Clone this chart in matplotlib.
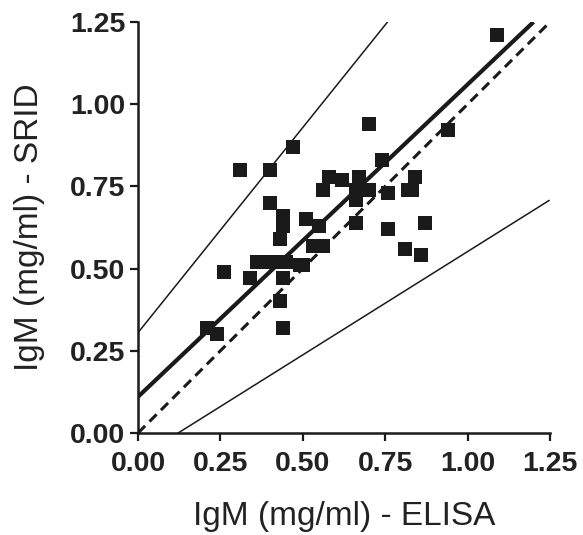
import matplotlib
matplotlib.use('Agg')
import matplotlib.pyplot as plt
import numpy as np

plt.rc('font', **{'family': 'sans-serif', 'sans-serif': ['Liberation Sans', 'DejaVu Sans']})

# IgM measured by ELISA (x) vs SRID (y), mg/ml
elisa = [1.09, 0.94, 0.70, 0.47, 0.31, 0.40, 0.40, 0.44, 0.44, 0.51, 0.43,
         0.26, 0.34, 0.36, 0.40, 0.42, 0.45, 0.44, 0.43, 0.44, 0.21, 0.24,
         0.49, 0.74, 0.58, 0.56, 0.62, 0.67, 0.66, 0.70, 0.66, 0.76, 0.83,
         0.84, 0.51, 0.55, 0.66, 0.76, 0.81, 0.86, 0.87, 0.53, 0.56, 0.50,
         0.82]
srid = [1.21, 0.92, 0.94, 0.87, 0.80, 0.80, 0.70, 0.66, 0.63, 0.65, 0.59,
        0.49, 0.47, 0.52, 0.52, 0.52, 0.52, 0.47, 0.40, 0.32, 0.32, 0.30,
        0.51, 0.83, 0.78, 0.74, 0.77, 0.78, 0.74, 0.74, 0.71, 0.73, 0.74,
        0.78, 0.65, 0.63, 0.64, 0.62, 0.56, 0.54, 0.64, 0.57, 0.57, 0.51,
        0.74]

# regression line, identity line and limit lines (end points)
fit_x = [0.0, 1.20]
fit_y = [0.11, 1.25]
ident_x = [0.0, 1.25]
ident_y = [0.0, 1.25]
upper_x = [0.0, 0.757]
upper_y = [0.305, 1.25]
lower_x = [0.122, 1.247]
lower_y = [0.0, 0.707]

ticks = [0.0, 0.25, 0.5, 0.75, 1.0, 1.25]
tick_labels = ['0.00', '0.25', '0.50', '0.75', '1.00', '1.25']

fig = plt.figure(figsize=(5.83, 5.35), dpi=100)
ax = fig.add_axes([0.2367, 0.1907, 0.7067, 0.7682])

ax.plot(upper_x, upper_y, color='#1a1a1a', lw=1.1)
ax.plot(lower_x, lower_y, color='#1a1a1a', lw=1.1)
ax.plot(ident_x, ident_y, color='#1a1a1a', lw=2.2, linestyle=(0, (3.3, 2.0)))
ax.plot(fit_x, fit_y, color='#1a1a1a', lw=3.0, solid_capstyle='butt')
ax.plot(elisa, srid, 's', color='#1a1a1a', ms=9.8, mew=0, clip_on=False)

ax.set_xlim(0, 1.25)
ax.set_ylim(0, 1.25)
ax.set_xticks(ticks)
ax.set_yticks(ticks)
ax.set_xticklabels(tick_labels, fontsize=20.5, fontweight='bold', color='#222222')
ax.set_yticklabels(tick_labels, fontsize=20.5, fontweight='bold', color='#222222')
ax.tick_params(direction='out', length=6, width=1.6, color='#1a1a1a')
ax.tick_params(axis='x', pad=7)
ax.tick_params(axis='y', pad=3)

for s in ['top', 'right']:
    ax.spines[s].set_visible(False)
for s in ['left', 'bottom']:
    ax.spines[s].set_linewidth(1.8)
    ax.spines[s].set_color('#1a1a1a')

ax.set_xlabel('IgM (mg/ml) - ELISA', fontsize=24, color='#222222', labelpad=17)
ax.set_ylabel('IgM (mg/ml) - SRID', fontsize=24, color='#222222', labelpad=18)

fig.savefig('out.png', dpi=100)
